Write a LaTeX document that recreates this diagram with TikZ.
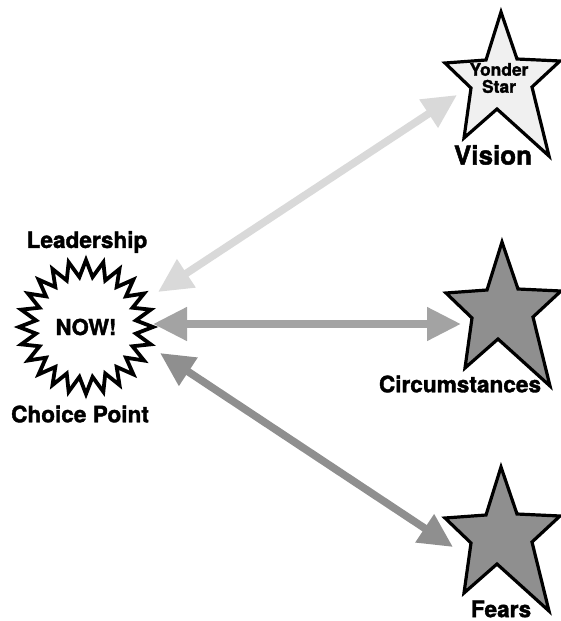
\documentclass[tikz,border=0pt]{standalone}
\usepackage{fontspec}
\setmainfont{TeX Gyre Heros}[BoldFeatures={FakeBold=1.6}]
\usetikzlibrary{arrows.meta, shapes.geometric}

\definecolor{visiongray}{gray}{0.85}
\definecolor{circgray}{gray}{0.64}
\definecolor{fearsgray}{gray}{0.56}
\definecolor{starlight}{gray}{0.94}
\definecolor{stardark}{gray}{0.56}

\begin{document}
\begin{tikzpicture}[x=0.5pt, y=-0.5pt,
  label/.style={font=\fontsize{11.3}{13}\selectfont\bfseries, inner sep=0pt},
  twoway/.style={{Triangle[length=17pt,width=16pt]}-{Triangle[length=17pt,width=16pt]}, line width=3.8pt},
  starline/.style={draw=black, line width=1.6pt, line join=miter}]
\useasboundingbox (0,0) rectangle (561,621);

% choice point
\node[star, star points=24, star point ratio=1.33, minimum size=67pt, inner sep=0pt, starline, line width=1.9pt, fill=white, font=\fontsize{11}{12}\selectfont\bfseries] (now) at (86,327) {NOW!};
\node[label] (leadership) at (87,242) {Leadership};
\node[label] (choice) at (80,414) {Choice Point};

% stars
\foreach \sx/\sy/\col in {501/12/starlight, 502/242/stardark, 501/467/stardark}
  \draw[starline, fill=\col, shift={(\sx,\sy)}] (0,0) -- (16,47) -- (59,49) -- (31,75) -- (48,144) -- (-4,97) -- (-37,126) -- (-30,76) -- (-56,51) -- (-15,48) -- cycle;
\node[font=\fontsize{8.7}{8.5}\selectfont\bfseries, align=center, inner sep=0pt] (yonder) at (499,78) {Yonder\\Star};
\node[label, font=\fontsize{13}{15}\selectfont\bfseries] (vision) at (493,155) {Vision};
\node[label] (circ) at (460,384) {Circumstances};
\node[label] (fears) at (501,609) {Fears};

% arrows
\coordinate (now-v) at (158,292);
\coordinate (now-c) at (153,324);
\coordinate (now-f) at (160,353);
\coordinate (vision-end) at (457,95);
\coordinate (circ-end) at (461,324);
\coordinate (fears-end) at (453,547);
\draw[twoway, visiongray] (now-v) -- (vision-end);
\draw[twoway, circgray] (now-c) -- (circ-end);
\draw[twoway, fearsgray] (now-f) -- (fears-end);
\end{tikzpicture}
\end{document}
